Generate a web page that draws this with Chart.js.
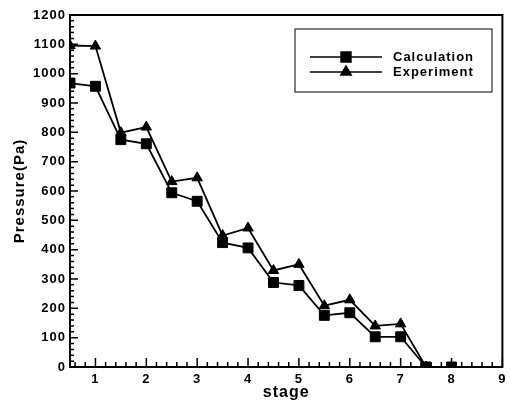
<!DOCTYPE html>
<html>
<head>
<meta charset="utf-8">
<script src="https://cdn.jsdelivr.net/npm/chart.js@4"></script>
<style>
  html, body { margin: 0; padding: 0; background: #fff; }
  #wrap { width: 511px; height: 402px; }
</style>
</head>
<body>
<div id="wrap"><canvas id="chart"></canvas></div>
<script>
// stage positions and pressures
const stages = [0.5, 1, 1.5, 2, 2.5, 3, 3.5, 4, 4.5, 5, 5.5, 6, 6.5, 7, 7.5, 8];
const calculation = [968, 957, 775, 761, 594, 565, 424, 406, 288, 278, 176, 185, 103, 103, 0, 0];
const experiment = [1096, 1094, 799, 818, 632, 645, 448, 474, 329, 350, 209, 229, 140, 147, 0];
const yTicks = [0, 100, 200, 300, 400, 500, 600, 700, 800, 900, 1000, 1100, 1200];
const xTicks = [1, 2, 3, 4, 5, 6, 7, 8, 9];

const FONT = "'Liberation Sans', Arial, sans-serif";

const toPoints = (xs, ys) => ys.map((y, i) => ({ x: xs[i], y: y }));

// inward ticks, frame and boxed legend like the original plot
const framePlugin = {
  id: 'frame',
  beforeDraw(chart) {
    chart.ctx.letterSpacing = '1px';
  },
  afterDraw(chart) {
    const { ctx, chartArea: a, scales } = chart;
    const xs = scales.x, ys = scales.y;
    ctx.save();
    ctx.strokeStyle = '#000';
    ctx.lineWidth = 1.5;
    ctx.beginPath();
    for (let v = 0.6; v < 9.001; v += 0.2) {
      const px = xs.getPixelForValue(v);
      const major = Math.abs(v - Math.round(v)) < 1e-6;
      ctx.moveTo(px, a.bottom);
      ctx.lineTo(px, a.bottom - (major ? 9 : 5));
    }
    for (let v = 20; v < 1200; v += 20) {
      const py = ys.getPixelForValue(v);
      const major = v % 100 === 0;
      ctx.moveTo(a.left, py);
      ctx.lineTo(a.left + (major ? 8 : 4), py);
    }
    ctx.stroke();

    ctx.lineWidth = 2;
    ctx.strokeRect(a.left, a.top, a.right - a.left, a.bottom - a.top);

    // legend box
    const lx = 295, ly = 29, lw = 197, lh = 63;
    ctx.lineWidth = 1;
    ctx.strokeRect(lx, ly, lw, lh);
    chart.data.datasets.forEach((ds, i) => {
      const y = 57 + i * 15;
      ctx.lineWidth = 1.5;
      ctx.beginPath();
      ctx.moveTo(310, y);
      ctx.lineTo(382, y);
      ctx.stroke();
      Chart.helpers.drawPoint(ctx, {
        pointStyle: ds.pointStyle,
        radius: ds.pointRadius,
        borderWidth: 1
      }, 346, y);
      ctx.fillStyle = '#000';
      ctx.font = 'bold 13px ' + FONT;
      ctx.textBaseline = 'middle';
      ctx.letterSpacing = '1px';
      ctx.fillText(ds.label, 393, y);
    });
    ctx.restore();
  }
};

new Chart(document.getElementById('chart'), {
  type: 'line',
  data: {
    datasets: [
      {
        label: 'Calculation',
        data: toPoints(stages, calculation),
        borderColor: '#000',
        backgroundColor: '#000',
        borderWidth: 1.8,
        pointStyle: 'rect',
        pointRadius: 7,
        pointBorderWidth: 1,
        tension: 0
      },
      {
        label: 'Experiment',
        data: toPoints(stages, experiment),
        borderColor: '#000',
        backgroundColor: '#000',
        borderWidth: 1.8,
        pointStyle: 'triangle',
        pointRadius: 6,
        pointBorderWidth: 1,
        tension: 0
      }
    ]
  },
  options: {
    responsive: true,
    maintainAspectRatio: false,
    animation: false,
    events: [],
    layout: { padding: { left: 0, right: 4, top: 15, bottom: 0 } },
    plugins: {
      legend: { display: false },
      tooltip: { enabled: false }
    },
    scales: {
      x: {
        type: 'linear',
        min: 0.5,
        max: 9,
        afterBuildTicks: (scale) => { scale.ticks = xTicks.map(v => ({ value: v })); },
        afterFit: (scale) => { scale.height = 35; },
        grid: { display: false, drawTicks: false },
        border: { display: false },
        ticks: {
          color: '#000',
          padding: 5,
          maxRotation: 0,
          callback: (v) => String(v),
          font: { family: FONT, size: 13, weight: 'bold' }
        },
        title: {
          display: true,
          text: 'stage',
          color: '#000',
          padding: { top: 2, bottom: 0 },
          font: { family: FONT, size: 16, weight: 'bold' }
        }
      },
      y: {
        min: 0,
        max: 1200,
        afterBuildTicks: (scale) => { scale.ticks = yTicks.map(v => ({ value: v })); },
        afterFit: (scale) => { scale.width = 70; },
        grid: { display: false, drawTicks: false },
        border: { display: false },
        ticks: {
          color: '#000',
          padding: 4,
          callback: (v) => String(v),
          font: { family: FONT, size: 13, weight: 'bold' }
        },
        title: {
          display: true,
          text: 'Pressure(Pa)',
          color: '#000',
          padding: { top: 11, bottom: 0 },
          font: { family: FONT, size: 15, weight: 'bold' }
        }
      }
    }
  },
  plugins: [framePlugin]
});
</script>
</body>
</html>
